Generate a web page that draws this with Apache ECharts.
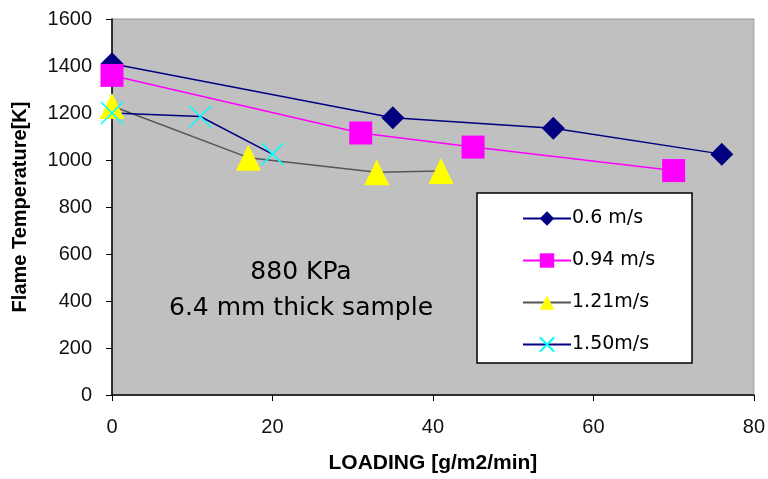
<!DOCTYPE html>
<html><head><meta charset="utf-8">
<script src="https://cdn.jsdelivr.net/npm/echarts@6/dist/echarts.min.js"></script>
<style>html,body{margin:0;padding:0;background:#fff}#c{width:768px;height:479px}</style>
</head><body><div id="c"></div>
<script>
const seriesNames = ['0.6 m/s', '0.94 m/s', '1.21m/s', '1.50m/s'];
const loading06 = [0, 35, 55, 76];
const temp06 = [1410, 1180, 1135, 1025];
const loading094 = [0, 31, 45, 70];
const temp094 = [1360, 1115, 1055, 955];
const loading121 = [0, 17, 33, 41];
const temp121 = [1230, 1010, 948, 953];
const loading150 = [0, 11, 20];
const temp150 = [1200, 1185, 1025];
const xTicks = [0, 20, 40, 60, 80];
const yTicks = [0, 200, 400, 600, 800, 1000, 1200, 1400, 1600];
const noteLines = ['880 KPa', '6.4 mm thick sample'];

const pair = (xs, ys) => xs.map((x, i) => [x, ys[i]]);
const font = 'Liberation Sans, Arial, sans-serif';
const wide = 'DejaVu Sans, sans-serif';
const chart = echarts.init(document.getElementById('c'));
chart.setOption({
  animation: false,
  grid: { left: 112, right: 12, top: 19, bottom: 83, show: true, backgroundColor: '#c0c0c0', borderColor: '#9a9a9a', borderWidth: 1 },
  xAxis: {
    type: 'value', min: xTicks[0], max: xTicks[xTicks.length - 1], interval: 20,
    name: 'LOADING [g/m2/min]', nameLocation: 'middle', nameGap: 58,
    nameTextStyle: { fontFamily: font, fontSize: 21, fontWeight: 'bold', color: '#000' },
    axisLine: { lineStyle: { color: '#000', width: 1.5 } },
    axisTick: { show: true, length: 6, lineStyle: { color: '#000' } },
    axisLabel: { fontFamily: font, fontSize: 20, color: '#111', margin: 22, formatter: v => String(v) },
    splitLine: { show: false }
  },
  yAxis: {
    type: 'value', min: yTicks[0], max: yTicks[yTicks.length - 1], interval: 200,
    name: 'Flame Temperature[K]', nameLocation: 'middle', nameGap: 82, nameRotate: 90,
    nameTextStyle: { fontFamily: font, fontSize: 20, fontWeight: 'bold', color: '#000' },
    axisLine: { show: true, lineStyle: { color: '#000', width: 1.5 } },
    axisTick: { show: true, length: 6, lineStyle: { color: '#000' } },
    axisLabel: { fontFamily: font, fontSize: 20, color: '#111', margin: 20, formatter: v => String(v) },
    splitLine: { show: false }
  },
  legend: {
    orient: 'vertical', left: 517, top: 204, itemWidth: 48, itemHeight: 18, itemGap: 23,
    textStyle: { fontFamily: wide, fontSize: 19, color: '#000', padding: [0,0,0,-4] },
    data: seriesNames, z: 10
  },
  graphic: [
    { type: 'rect', z: 1, shape: { x: 477, y: 193, width: 215, height: 170 }, style: { fill: '#fff', stroke: '#000', lineWidth: 1.5 } },
    { type: 'text', z: 5, style: { x: 301, y: 272, text: noteLines[0], fontFamily: wide, fontSize: 25, fill: '#000', textAlign: 'center', textVerticalAlign: 'middle' } },
    { type: 'text', z: 5, style: { x: 301, y: 308, text: noteLines[1], fontFamily: wide, fontSize: 25, fill: '#000', textAlign: 'center', textVerticalAlign: 'middle' } }
  ],
  series: [
    { name: seriesNames[0], type: 'line', data: pair(loading06, temp06), symbol: 'diamond', symbolSize: 23,
      lineStyle: { color: '#000080', width: 1.5 }, itemStyle: { color: '#000080' } },
    { name: seriesNames[1], type: 'line', data: pair(loading094, temp094), symbol: 'rect', symbolSize: 23,
      lineStyle: { color: '#ff00ff', width: 1.5 }, itemStyle: { color: '#ff00ff' } },
    { name: seriesNames[2], type: 'line', data: pair(loading121, temp121), symbol: 'triangle', symbolSize: [25, 26],
      lineStyle: { color: '#555555', width: 1.5 }, itemStyle: { color: '#ffff00' } },
    { name: seriesNames[3], type: 'line', data: pair(loading150, temp150), symbol: 'path://M0,0L10,10M10,0L0,10', symbolSize: 22,
      lineStyle: { color: '#000080', width: 1.5 }, itemStyle: { color: 'rgba(0,0,0,0)', borderColor: '#00ffff', borderWidth: 1.5 } }
  ]
});
</script></body></html>
